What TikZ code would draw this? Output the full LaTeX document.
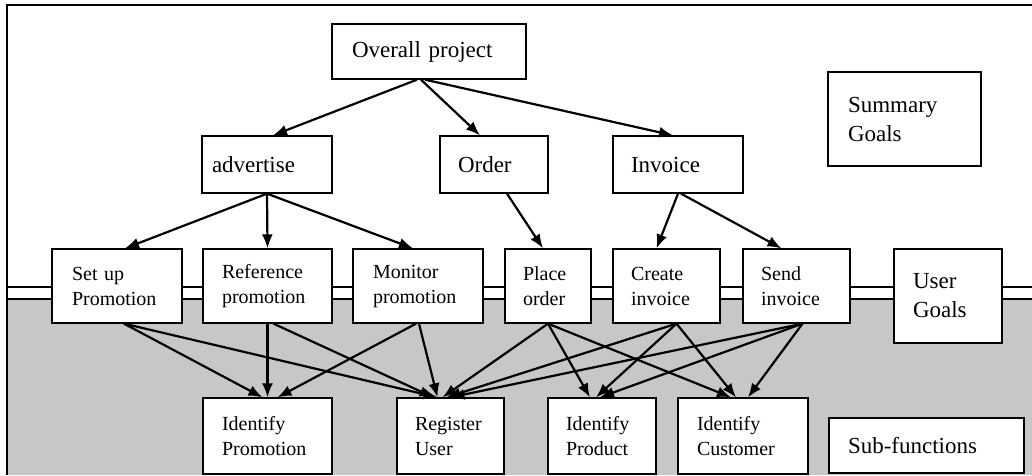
\documentclass[tikz,border=0pt]{standalone}
\usepackage{fontspec}
\setmainfont{Liberation Serif}
\usetikzlibrary{arrows.meta}
\hyphenpenalty=10000
\exhyphenpenalty=10000
\begin{document}
\begin{tikzpicture}[x=1pt,y=-1pt,
  goalbox/.style={draw, line width=1.3pt, fill=white, align=left, inner ysep=2pt},
  bigtext/.style={font=\fontsize{23}{29}\selectfont},
  smalltext/.style={font=\fontsize{20}{25}\selectfont},
  link/.style={line width=2.2pt, -{Latex[length=14pt,width=11pt]}},
]
\useasboundingbox (0,0) rectangle (1032,475);

% shaded band of the sub-function level
\fill[black!22] (7,299) rectangle (1032,475);
% frame (top and left) and the double line between levels
\draw[line width=1.4pt] (7,475) -- (7,5) -- (1032,5);
\draw[line width=1.6pt] (7,287) -- (1032,287);
\draw[line width=1.6pt] (7,299) -- (1032,299);

% summary level
\node[goalbox, bigtext, inner xsep=20pt, text width=154pt, minimum height=55pt] (ov) at (429,51.5) {Overall project};
\node[goalbox, bigtext, inner xsep=10pt, text width=110pt, minimum height=57pt] (adv) at (267,164.5) {advertise};
\node[goalbox, bigtext, inner xsep=18pt, text width=72pt, minimum height=57pt] (order) at (494,164.5) {Order};
\node[goalbox, bigtext, inner xsep=18pt, text width=94pt, minimum height=57pt] (inv) at (678,164.5) {Invoice};
\node[goalbox, bigtext, inner xsep=20pt, text width=113pt, minimum height=94pt] (summ) at (904.5,119) {Summary\\Goals\\[6pt]};

% user-goal level
\node[goalbox, smalltext, inner xsep=20pt, text width=90pt, minimum height=74pt] (setup) at (117,286) {Set up\\Promotion};
\node[goalbox, smalltext, inner xsep=19pt, text width=91pt, minimum height=74pt] (ref) at (267.5,286) {Reference\\promotion};
\node[goalbox, smalltext, inner xsep=20pt, text width=90pt, minimum height=74pt] (mon) at (418,286) {Monitor\\promotion};
\node[goalbox, smalltext, inner xsep=18pt, text width=50pt, minimum height=74pt] (place) at (548,286) {Place\\order};
\node[goalbox, smalltext, inner xsep=18pt, text width=71pt, minimum height=74pt] (create) at (666.5,286) {Create\\invoice};
\node[goalbox, smalltext, inner xsep=18pt, text width=71pt, minimum height=74pt] (send) at (796.5,286) {Send\\invoice};
\node[goalbox, bigtext, inner xsep=19pt, text width=70pt, minimum height=94pt] (ugoals) at (948,296) {User\\Goals\\[6pt]};

% sub-function level
\node[goalbox, smalltext, inner xsep=19pt, text width=91pt, minimum height=76pt] (idpromo) at (267.5,436) {Identify\\Promotion};
\node[goalbox, smalltext, inner xsep=18pt, text width=71pt, minimum height=76pt] (reguser) at (450.5,436) {Register\\User};
\node[goalbox, smalltext, inner xsep=18pt, text width=72pt, minimum height=76pt] (idprod) at (602,436) {Identify\\Product};
\node[goalbox, smalltext, inner xsep=19pt, text width=92pt, minimum height=76pt] (idcust) at (743,436) {Identify\\Customer};
\node[goalbox, bigtext, inner xsep=19pt, text width=157pt, minimum height=55pt] (subf) at (926.5,445.5) {Sub-functions};

% summary -> summary
\draw[link] ([xshift=-12pt]ov.south) -- ([xshift=6pt]adv.north);
\draw[link] ([xshift=-8pt]ov.south) -- ([xshift=-14pt]order.north);
\draw[link] ([xshift=-4pt]ov.south) -- ([xshift=-5pt]inv.north);

% summary -> user goals
\draw[link] (adv.south) -- ([xshift=8pt]setup.north);
\draw[link] (adv.south) -- (ref.north);
\draw[link] (adv.south) -- ([xshift=-5pt]mon.north);
\draw[link] ([xshift=13pt]order.south) -- ([xshift=-5pt]place.north);
\draw[link] (inv.south) -- ([xshift=-10pt]create.north);
\draw[link] ([xshift=3pt]inv.south) -- ([xshift=-15pt]send.north);

% user goals -> sub-functions
\draw[link] ([xshift=7pt]setup.south) -- ([xshift=-5pt]idpromo.north);
\draw[link] ([xshift=7pt]setup.south) -- ([xshift=-13pt]reguser.north);
\draw[link] (ref.south) -- (idpromo.north);
\draw[link] ([xshift=6pt]ref.south) -- ([xshift=-17pt]reguser.north);
\draw[link] ([xshift=-2pt]mon.south) -- ([xshift=10pt]idpromo.north);
\draw[link] ([xshift=1pt]mon.south) -- ([xshift=-13pt]reguser.north);
\draw[link] (place.south) -- ([xshift=-8pt]reguser.north);
\draw[link] (place.south) -- ([xshift=-12pt]idprod.north);
\draw[link] (place.south) -- ([xshift=-12pt]idcust.north);
\draw[link] ([xshift=10pt]create.south) -- ([xshift=-4pt]reguser.north);
\draw[link] ([xshift=10pt]create.south) -- ([xshift=-6pt]idprod.north);
\draw[link] ([xshift=10pt]create.south) -- ([xshift=-7pt]idcust.north);
\draw[link] ([xshift=6pt]send.south) -- (reguser.north);
\draw[link] ([xshift=6pt]send.south) -- ([xshift=-2pt]idprod.north);
\draw[link] ([xshift=6pt]send.south) -- ([xshift=5pt]idcust.north);
\end{tikzpicture}
\end{document}
